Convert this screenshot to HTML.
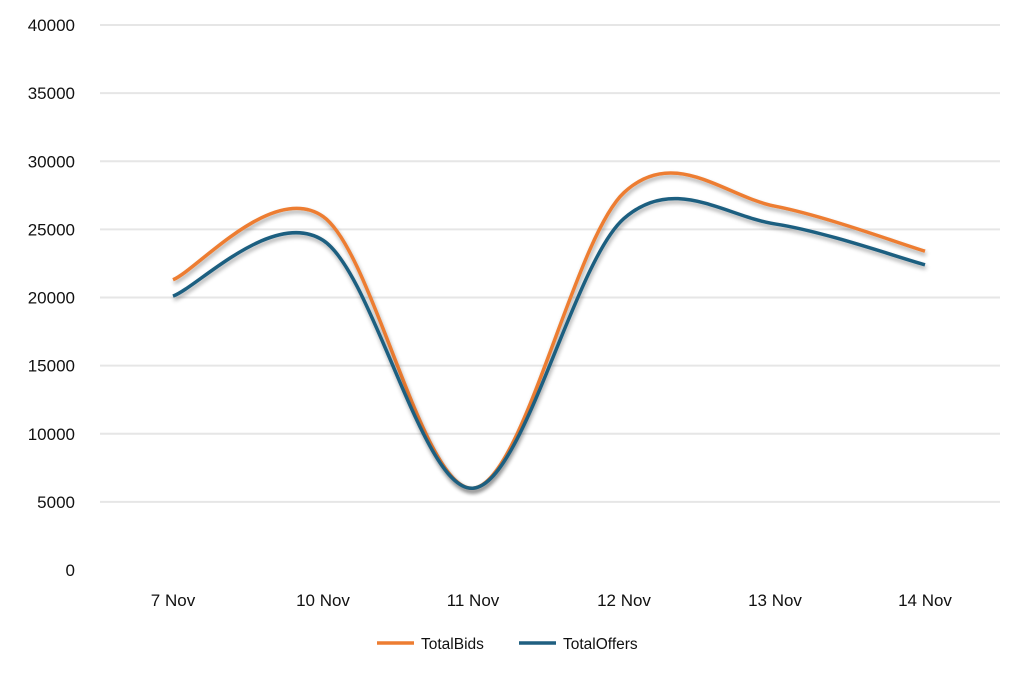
<!DOCTYPE html>
<html><head><meta charset="utf-8"><style>
body{margin:0;background:#fff;width:1024px;height:675px;overflow:hidden;font-family:"Liberation Sans",sans-serif}
text{font-family:"Liberation Sans",sans-serif;fill:#111;font-size:17px}
</style></head><body>
<svg id="s" width="1024" height="675" xmlns="http://www.w3.org/2000/svg">
<defs><filter id="sh" x="-10%" y="-10%" width="120%" height="130%"><feGaussianBlur in="SourceAlpha" stdDeviation="2"/><feOffset dx="1" dy="3"/><feComponentTransfer><feFuncA type="linear" slope="0.35"/></feComponentTransfer><feMerge><feMergeNode/><feMergeNode in="SourceGraphic"/></feMerge></filter></defs>
<g id="grid" stroke="#e6e6e6" stroke-width="2"></g>
<g id="lab"></g>
<path id="bids" fill="none" stroke="#ed7d31" stroke-width="3.5" filter="url(#sh)"/>
<path id="offs" fill="none" stroke="#1f5f80" stroke-width="3.5" filter="url(#sh)"/>
<line x1="377" y1="643" x2="414" y2="643" stroke="#ed7d31" stroke-width="3.5"/>
<text x="421" y="649" style="font-size:15.5px">TotalBids</text>
<line x1="519" y1="643" x2="556" y2="643" stroke="#1f5f80" stroke-width="3.5"/>
<text x="563" y="649" style="font-size:15.5px">TotalOffers</text>
</svg>
<script>
var g=document.getElementById('grid'),l=document.getElementById('lab'),NS='http://www.w3.org/2000/svg';
function Y(v){return 570-v*545/40000;}
for(var i=0;i<=8;i++){var y=Y(i*5000);
 if(i>0){var ln=document.createElementNS(NS,'line');ln.setAttribute('x1',100);ln.setAttribute('x2',1000);ln.setAttribute('y1',y);ln.setAttribute('y2',y);g.appendChild(ln);}
 var t=document.createElementNS(NS,'text');t.setAttribute('x',75);t.setAttribute('y',y+6);t.setAttribute('text-anchor','end');t.textContent=i*5000;l.appendChild(t);}
var X=[173,323,473,624,775,925],C=['7 Nov','10 Nov','11 Nov','12 Nov','13 Nov','14 Nov'];
X.forEach(function(x,i){var t=document.createElementNS(NS,'text');t.setAttribute('x',x);t.setAttribute('y',606);t.setAttribute('text-anchor','middle');t.textContent=C[i];l.appendChild(t);});
function path(vals){var p=X.map(function(x,i){return [x,Y(vals[i])];});var d='M'+p[0][0]+','+p[0][1];
 for(var i=0;i<p.length-1;i++){var p0=p[i-1]||p[i],p1=p[i],p2=p[i+1],p3=p[i+2]||p2;
 d+=' C'+(p1[0]+(p2[0]-p0[0])/6)+','+(p1[1]+(p2[1]-p0[1])/6)+' '+(p2[0]-(p3[0]-p1[0])/6)+','+(p2[1]-(p3[1]-p1[1])/6)+' '+p2[0]+','+p2[1];}
 return d;}
document.getElementById('bids').setAttribute('d',path([21300,25950,6000,27700,26700,23400]));
document.getElementById('offs').setAttribute('d',path([20100,24200,6000,25800,25400,22400]));
</script>
</body></html>
